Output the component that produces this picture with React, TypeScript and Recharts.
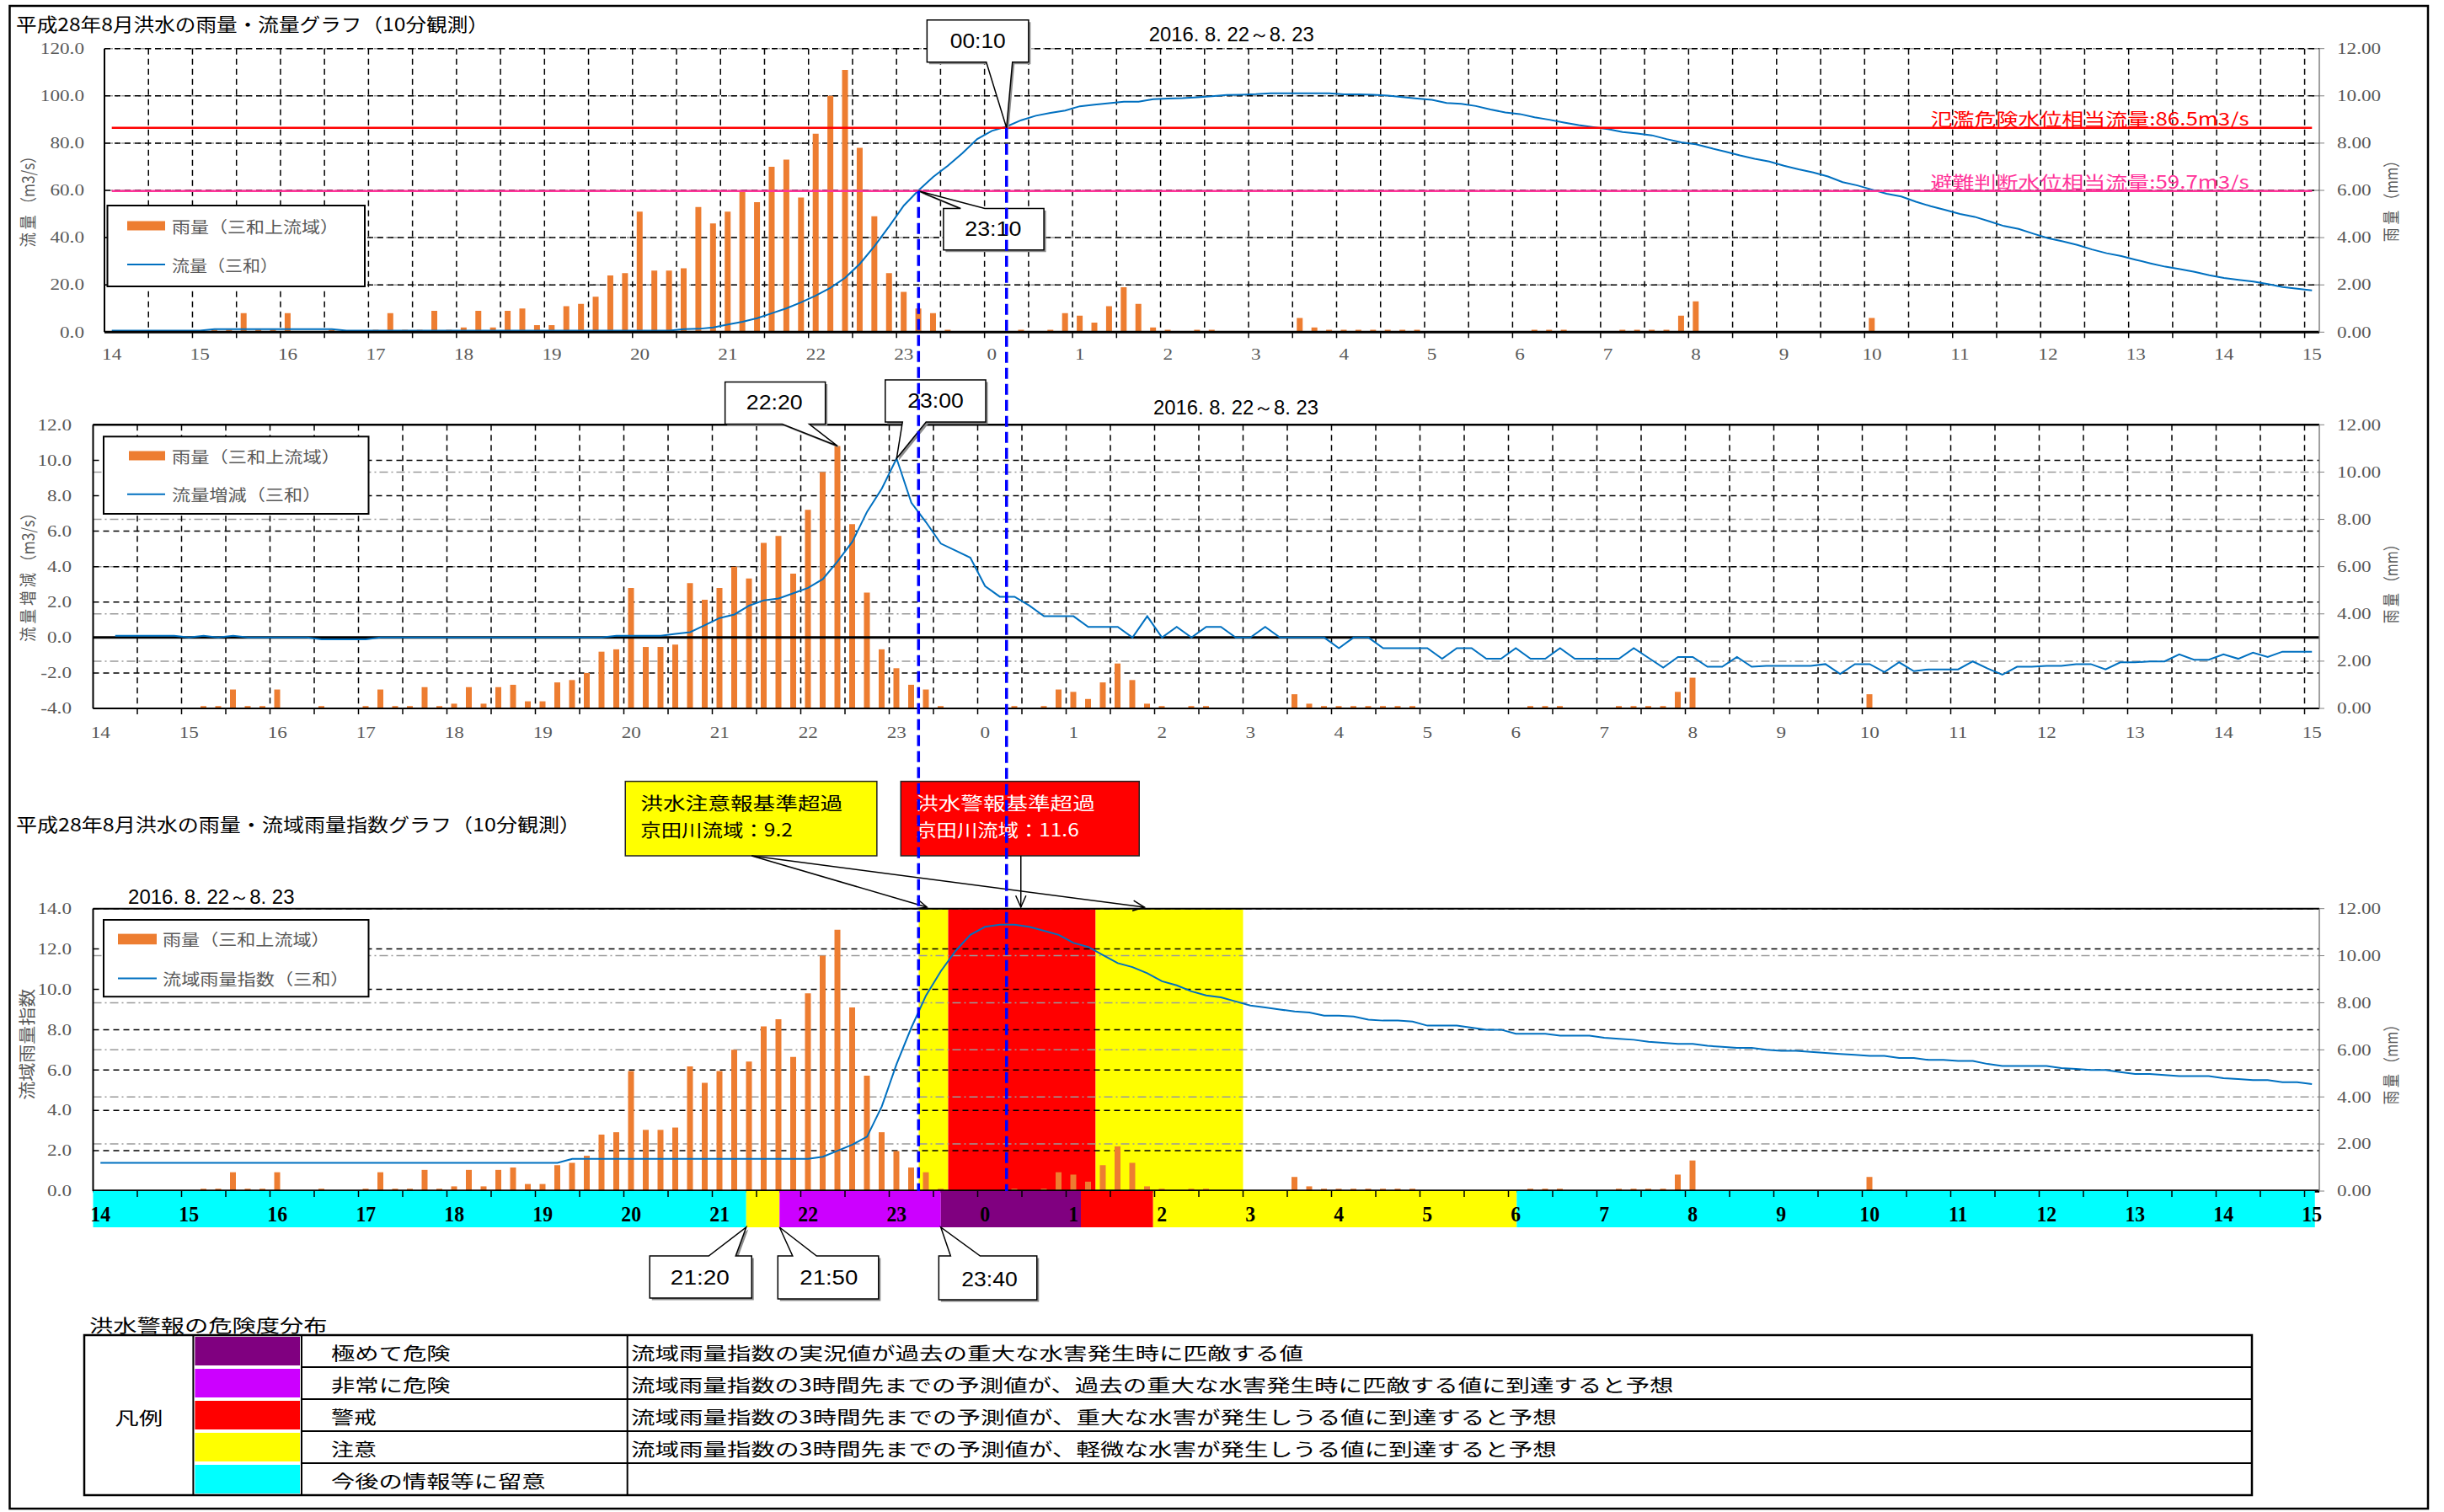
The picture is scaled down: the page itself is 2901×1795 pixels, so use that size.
import React from 'react';
import {
  ComposedChart, Bar, Line, XAxis, YAxis, CartesianGrid,
  ReferenceLine, ReferenceDot, ReferenceArea,
} from 'recharts';

// ---------------- data (10-minute observations, 2016-08-22 14:00 -> 08-23 15:00) ----------------
const hourLabels = ['14', '15', '16', '17', '18', '19', '20', '21', '22', '23', '0', '1', '2', '3', '4', '5', '6', '7', '8', '9', '10', '11', '12', '13', '14', '15'];

// rainfall (mm / 10 min) – 三和上流域
const rain = [
  0, 0, 0, 0, 0, 0, 0, 0.1, 0.1, 0.8,
  0.1, 0.1, 0.8, 0, 0, 0.1, 0, 0, 0.1, 0.8,
  0.1, 0.1, 0.9, 0.1, 0.2, 0.9, 0.2, 0.9, 1.0, 0.3,
  0.3, 1.1, 1.2, 1.5, 2.4, 2.5, 5.1, 2.6, 2.6, 2.7,
  5.3, 4.6, 5.1, 6.0, 5.5, 7.0, 7.3, 5.7, 8.4, 10.0,
  11.1, 7.8, 4.9, 2.5, 1.7, 1.0, 0.8, 0.1, 0, 0,
  0, 0, 0.1, 0, 0.1, 0.8, 0.7, 0.4, 1.1, 1.9,
  1.2, 0.2, 0.1, 0, 0.1, 0.1, 0, 0, 0, 0,
  0, 0.6, 0.2, 0.1, 0.1, 0.1, 0.1, 0.1, 0.1, 0.1,
  0, 0, 0, 0, 0, 0, 0, 0.1, 0.1, 0.1,
  0, 0, 0, 0.1, 0.1, 0.1, 0.1, 0.7, 1.3, 0,
  0, 0, 0, 0, 0, 0, 0, 0, 0, 0,
  0.6, 0, 0, 0, 0, 0, 0, 0, 0, 0,
  0, 0, 0, 0, 0, 0, 0, 0, 0, 0,
  0, 0, 0, 0, 0, 0, 0, 0, 0, 0,
  0,
];

// flow (m3/s) – 三和
const flow = [
  0.6, 0.6, 0.6, 0.6, 0.6, 0.6, 0.6, 1.3, 1.3, 1.3,
  1.3, 1.3, 1.3, 1.3, 1.3, 1.3, 0.6, 0.6, 0.6, 0.6,
  0.6, 0.6, 0.6, 0.6, 0.6, 0.6, 0.6, 0.6, 0.6, 0.6,
  0.6, 0.6, 0.6, 0.6, 0.6, 0.6, 0.6, 0.6, 0.6, 1.3,
  1.4, 2.0, 3.2, 4.4, 5.9, 8.0, 10.1, 12.6, 15.5, 18.8,
  23.0, 28.9, 36.4, 44.8, 53.6, 60.0, 65.7, 70.4, 75.8, 81.7,
  85.2, 87.0, 89.7, 91.6, 92.8, 93.8, 95.6, 96.3, 96.9, 97.5,
  97.5, 98.6, 98.9, 99.0, 99.4, 99.8, 100.4, 100.5, 100.7, 101.1,
  101.1, 101.1, 101.1, 101.1, 100.6, 100.6, 100.5, 100.1, 99.5, 98.9,
  98.3, 97.0, 96.6, 95.7, 94.2, 93.0, 92.3, 90.9, 89.9, 88.7,
  87.6, 86.7, 85.9, 84.7, 84.1, 83.3, 81.7, 80.3, 79.5, 77.9,
  76.4, 74.8, 73.4, 72.2, 70.4, 68.9, 67.6, 65.9, 63.5, 62.1,
  60.3, 58.6, 57.4, 55.2, 53.3, 51.7, 50.0, 48.8, 46.9, 44.9,
  43.7, 41.7, 39.8, 38.4, 36.9, 35.0, 33.4, 32.2, 30.6, 29.1,
  27.7, 26.7, 25.5, 24.1, 22.9, 22.1, 21.4, 20.3, 19.1, 18.4,
  17.7,
];

// flow change (m3/s per 10 min) – 三和
const dflow = [
  null, 0.1, 0.1, 0.1, 0.1, 0.1, 0.0, 0.1, 0.0, 0.1,
  0, 0, 0, 0, 0, -0.1, -0.1, -0.1, -0.1, 0,
  0, 0, 0, 0, 0, 0, 0, 0, 0, 0,
  0, 0, 0, 0, 0, 0.1, 0.1, 0.1, 0.1, 0.2,
  0.3, 0.7, 1.1, 1.3, 1.8, 2.1, 2.2, 2.5, 2.8, 3.3,
  4.3, 5.4, 7.1, 8.4, 10.1, 7.6, 6.5, 5.3, 4.9, 4.5,
  2.9, 2.3, 2.3, 1.8, 1.2, 1.2, 1.2, 0.6, 0.6, 0.6,
  0, 1.2, 0, 0.6, 0, 0.6, 0.6, 0, 0, 0.6,
  0, 0, 0, 0, -0.6, 0, 0, -0.6, -0.6, -0.6,
  -0.6, -1.2, -0.6, -0.6, -1.2, -1.2, -0.6, -1.2, -1.2, -0.6,
  -1.2, -1.2, -1.2, -1.2, -0.6, -1.15, -1.7, -1.1, -1.1, -1.65,
  -1.65, -1.1, -1.65, -1.6, -1.6, -1.6, -1.6, -1.5, -2.05, -1.5,
  -1.5, -1.95, -1.4, -1.9, -1.8, -1.8, -1.8, -1.35, -1.75, -2.1,
  -1.65, -1.65, -1.6, -1.6, -1.5, -1.5, -1.8, -1.4, -1.4, -1.35,
  -1.35, -0.95, -1.25, -1.25, -0.95, -1.2, -0.85, -1.1, -0.8, -0.8,
  -0.8,
];

// 流域雨量指数 – 三和
const basinIndex = [
  1.4, 1.4, 1.4, 1.4, 1.4, 1.4, 1.4, 1.4, 1.4, 1.4,
  1.4, 1.4, 1.4, 1.4, 1.4, 1.4, 1.4, 1.4, 1.4, 1.4,
  1.4, 1.4, 1.4, 1.4, 1.4, 1.4, 1.4, 1.4, 1.4, 1.4,
  1.4, 1.4, 1.6, 1.6, 1.6, 1.6, 1.6, 1.6, 1.6, 1.6,
  1.6, 1.6, 1.6, 1.6, 1.6, 1.6, 1.6, 1.6, 1.6, 1.7,
  2.0, 2.3, 2.7, 4.2, 6.3, 8.1, 9.7, 10.9, 11.9, 12.7,
  13.1, 13.2, 13.2, 13.1, 12.9, 12.7, 12.3, 12.1, 11.7, 11.3,
  11.1, 10.8, 10.4, 10.2, 9.9, 9.7, 9.6, 9.4, 9.2, 9.1,
  9.0, 8.9, 8.85, 8.7, 8.7, 8.65, 8.5, 8.45, 8.45, 8.4,
  8.2, 8.2, 8.2, 8.1, 8.0, 8.0, 7.8, 7.8, 7.8, 7.7,
  7.7, 7.7, 7.6, 7.55, 7.5, 7.4, 7.35, 7.3, 7.3, 7.2,
  7.15, 7.1, 7.1, 7.0, 6.95, 6.95, 6.9, 6.85, 6.8, 6.75,
  6.7, 6.7, 6.6, 6.6, 6.5, 6.5, 6.45, 6.45, 6.3, 6.2,
  6.2, 6.2, 6.2, 6.1, 6.05, 6.0, 6.0, 5.9, 5.8, 5.8,
  5.75, 5.7, 5.7, 5.7, 5.6, 5.55, 5.5, 5.5, 5.4, 5.4,
  5.3,
];

const DANGER_FLOW = 86.5; // 氾濫危険水位相当流量
const EVAC_FLOW = 59.7;   // 避難判断水位相当流量

// background warning bands of the index chart (x in 10-minute steps)
const bandStarts = [55.5, 57.5, 67.5];
const bandEnds = [57.5, 67.5, 77.5];
const bandColors = ['#FFFF00', '#FF0000', '#FFFF00'];

// danger distribution strip under the index chart
const stripStarts = [-0.5, 43.8, 46.06, 57.0, 66.5, 71.4, 96.06];
const stripEnds = [43.8, 46.06, 57.0, 66.5, 71.4, 96.06, 150.2];
const stripColors = ['#00FFFF', '#FFFF00', '#CC00FF', '#800080', '#FF0000', '#FFFF00', '#00FFFF'];
const stripTimes = ['', '21:20', '21:50', '23:40', '', '', ''];

const levels = [
  { color: '#800080', label: '極めて危険', lw: 141.7, desc: '流域雨量指数の実況値が過去の重大な水害発生時に匹敵する値', dw: 798 },
  { color: '#CC00FF', label: '非常に危険', lw: 141.7, desc: '流域雨量指数の3時間先までの予測値が、過去の重大な水害発生時に匹敵する値に到達すると予想', dw: 1237.5 },
  { color: '#FF0000', label: '警戒', lw: 53.8, desc: '流域雨量指数の3時間先までの予測値が、重大な水害が発生しうる値に到達すると予想', dw: 1098.8 },
  { color: '#FFFF00', label: '注意', lw: 53.8, desc: '流域雨量指数の3時間先までの予測値が、軽微な水害が発生しうる値に到達すると予想', dw: 1098.8 },
  { color: '#00FFFF', label: '今後の情報等に留意', lw: 254.6, desc: '', dw: 0 },
];

// ---------------- layout / style ----------------
const W = 2901;
const H = 1795;
const SERIF = '"Liberation Serif", "DejaVu Serif", serif';
const NARROW = '"Liberation Sans Narrow", "Liberation Sans", Arial, sans-serif';
const CJK = '"Noto Sans CJK JP", "Noto Sans CJK SC", "Noto Sans", sans-serif';
const GRAY_TXT = '#595959';
const ORANGE = '#ED7D31';
const BLUE = '#0070C0';
const GRID_GRAY = '#9a9a9a';
const SX = 1.22;
const X_DOMAIN: [number, number] = [-0.5, 150.5];
const hourTicks = hourLabels.map((_, k) => k * 6);
const gridX = Array.from({ length: 50 }, (_, k) => 2.5 + 3 * k);
const R_TICKS = [0, 2, 4, 6, 8, 10, 12];

const TOP_Y = 0, TOP_H = 440;
const MID_Y = 440, MID_H = 460;
const BOT_Y = 900, BOT_PLOT_BOTTOM = 1414;
const BOT_H = BOT_PLOT_BOTTOM - BOT_Y + 1;
const STRIP_Y = 1414, STRIP_H = 43;
const BLUE_END = BOT_PLOT_BOTTOM - TOP_Y;

const data = rain.map((r, i) => ({ i, rain: r, flow: flow[i], dflow: dflow[i], index: basinIndex[i] }));

// ---------------- helpers ----------------
const Txt = ({ x, y, w, size, fill = '#000', font = CJK, anchor = 'start', weight, rotate, children }: any) => (
  <text
    x={x} y={y} fontSize={size} fill={fill} fontFamily={font} textAnchor={anchor}
    dominantBaseline="central" fontWeight={weight}
    textLength={w || undefined} lengthAdjust={w ? 'spacingAndGlyphs' : undefined}
    transform={rotate ? `rotate(${rotate} ${x} ${y})` : undefined}
  >{children}</text>
);

const xTick = (dy: number, bold = false) => (props: any) => {
  const { x, y, payload } = props;
  const label = hourLabels[Math.round(payload.value / 6)];
  const s = bold ? 0.95 : SX;
  return (
    <text x={x} y={y + dy} transform={`matrix(${s},0,0,1,${x * (1 - s)},0)`} textAnchor="middle"
      dominantBaseline="central" fontFamily={SERIF} fontSize={bold ? 25 : 19}
      fontWeight={bold ? 'bold' : 'normal'} fill={bold ? '#000' : GRAY_TXT}>{label}</text>
  );
};
const yTickL = (dx: number) => (props: any) => {
  const { x, y, payload } = props;
  const tx = x - dx;
  return (
    <text x={tx} y={y} transform={`matrix(${SX},0,0,1,${tx * (1 - SX)},0)`} textAnchor="end"
      dominantBaseline="central" fontFamily={SERIF} fontSize={19} fill={GRAY_TXT}>{Number(payload.value).toFixed(1)}</text>
  );
};
const yTickR = (props: any) => {
  const { x, y, payload } = props;
  const tx = x + 15;
  return (
    <text x={tx} y={y} transform={`matrix(${SX},0,0,1,${tx * (1 - SX)},0)`} textAnchor="start"
      dominantBaseline="central" fontFamily={SERIF} fontSize={19} fill={GRAY_TXT}>{Number(payload.value).toFixed(2)}</text>
  );
};

function calloutPath(cx: number, cy: number, c: any) {
  const L = cx + c.box[0], T = cy + c.box[1], R = cx + c.box[2], B = cy + c.box[3];
  const b1 = cx + c.base[0], b2 = cx + c.base[1];
  if (c.side === 'bottom') return `M${L},${T} H${R} V${B} H${b2} L${cx},${cy} L${b1},${B} H${L} Z`;
  return `M${L},${T} H${b1} L${cx},${cy} L${b2},${T} H${R} V${B} H${L} Z`;
}
const makeCallout = (c: any) => (p: any) => {
  const { cx, cy } = p;
  if (cx == null || cy == null) return <g />;
  const d = calloutPath(cx, cy, c);
  return (
    <g>
      <path d={d} fill="#8c8c8c" transform="translate(2.5,2.5)" />
      <path d={d} fill="#fff" stroke="#000" strokeWidth={1.5} />
      <Txt x={cx + c.tc[0]} y={cy + c.tc[1]} w={c.tw} size={24} font={NARROW} anchor="middle">{c.text}</Txt>
    </g>
  );
};
const blueDashed = (p: any) => (p.cx == null ? <g /> : (
  <line x1={p.cx} y1={p.cy} x2={p.cx} y2={BLUE_END} stroke="#0000FF" strokeWidth={3.5} strokeDasharray="13 6" />
));
const tickMark = (p: any) => (p.cx == null ? <g /> : (
  <line x1={p.cx} y1={p.cy} x2={p.cx} y2={p.cy + 7} stroke="#000" strokeWidth={1.5} />
));
const thresholdLabel = (text: string, color: string) => (p: any) => (p.cx == null ? <g /> : (
  <Txt x={p.cx - 74.7} y={p.cy - 11.7} w={378} size={21} fill={color} anchor="end">{text}</Txt>
));

function Arrow({ x1, y1, x2, y2, size = 15 }: any) {
  const a = Math.atan2(y2 - y1, x2 - x1);
  const s = 0.42;
  const p1 = `${x2 - size * Math.cos(a - s)},${y2 - size * Math.sin(a - s)}`;
  const p2 = `${x2 - size * Math.cos(a + s)},${y2 - size * Math.sin(a + s)}`;
  return (
    <g stroke="#000" strokeWidth={1.5} fill="none">
      <line x1={x1} y1={y1} x2={x2} y2={y2} />
      <polyline points={`${p1} ${x2},${y2} ${p2}`} />
    </g>
  );
}

const cautionNote = (p: any) => {
  const { cx, cy } = p;
  if (cx == null) return <g />;
  return (
    <g>
      <rect x={cx - 357} y={cy - 151.1} width={298.6} height={88.4} fill="#FFFF00" stroke="#222" strokeWidth={1.5} />
      <Txt x={cx - 339} y={cy - 127} w={240} size={21}>洪水注意報基準超過</Txt>
      <Txt x={cx - 339} y={cy - 94.5} w={180.5} size={21}>京田川流域：9.2</Txt>
      <Arrow x1={cx - 207} y1={cy - 62.7} x2={cx + 1} y2={cy - 1.7} />
      <Arrow x1={cx - 207} y1={cy - 62.7} x2={cx + 259.2} y2={cy - 1.7} />
    </g>
  );
};
const warningNote = (p: any) => {
  const { cx, cy } = p;
  if (cx == null) return <g />;
  return (
    <g>
      <rect x={cx - 65} y={cy - 151.1} width={283} height={88.4} fill="#FF0000" stroke="#222" strokeWidth={1.5} />
      <Txt x={cx - 47} y={cy - 127} w={212.5} size={21} fill="#fff">洪水警報基準超過</Txt>
      <Txt x={cx - 47} y={cy - 94.5} w={193.4} size={21} fill="#fff">京田川流域：11.6</Txt>
      <Arrow x1={cx + 77.5} y1={cy - 62.7} x2={cx + 77.5} y2={cy - 1.7} />
    </g>
  );
};

const topCallouts = [
  { x: 61, y: DANGER_FLOW, text: '00:10', side: 'bottom', box: [-94.4, -128, 26.1, -78], base: [-24, 7], tc: [-34, -103.2], tw: 66 },
  { x: 55, y: EVAC_FLOW, text: '23:10', side: 'top', box: [29.6, 20.6, 148.8, 70], base: [50, 78.7], tc: [88.5, 45], tw: 67 },
];
const midCallouts = [
  { x: 50, y: rain[50], axis: 'r', text: '22:20', side: 'bottom', box: [-133.6, -76, -14.6, -26], base: [-65.6, -33.6], tc: [-75, -51.7], tw: 67 },
  { x: 54, y: dflow[54] as number, axis: 'l', text: '23:00', side: 'bottom', box: [-13.5, -93.3, 105.8, -43.3], base: [7, 35], tc: [46.3, -69], tw: 66.5 },
];
const stripCallouts = [
  { k: 1, side: 'top', box: [-114.5, 34, 6.5, 84], base: [-44.5, -12.5], tc: [-54.9, 59.7], tw: 70 },
  { k: 2, side: 'top', box: [-2, 34, 117.5, 85], base: [15.5, 44], tc: [58.5, 59.7], tw: 69 },
  { k: 3, side: 'top', box: [-2.4, 34, 114, 86], base: [11.6, 46.7], tc: [57.8, 61.7], tw: 66.5 },
];

const commonX = {
  xAxisId: 'x', dataKey: 'i', type: 'number' as const, domain: X_DOMAIN, ticks: hourTicks,
  interval: 0, allowDataOverflow: true, tickLine: false, tickSize: 0, tickMargin: 0,
};
const rightAxis = {
  yAxisId: 'r', orientation: 'right' as const, domain: [0, 12], ticks: R_TICKS, width: 148, interval: 0,
  tickSize: 6, tickMargin: 0, tickLine: { stroke: '#808080' }, axisLine: { stroke: '#808080', strokeWidth: 1.5 },
  tick: yTickR, allowDataOverflow: true,
};
const leftAxisBase = {
  yAxisId: 'l', allowDataOverflow: true, interval: 0, tickLine: false, tickSize: 0, tickMargin: 0,
  axisLine: { stroke: '#000', strokeWidth: 2 },
};

// ---------------- charts ----------------
function TopChart() {
  return (
    <div style={{ position: 'absolute', left: 0, top: TOP_Y, zIndex: 3 }}>
      <ComposedChart width={W} height={TOP_H} data={data} margin={{ top: 57.7, right: 0, bottom: 0, left: 0 }}>
        <CartesianGrid xAxisId="x" yAxisId="r" vertical={false} stroke={GRID_GRAY} strokeDasharray="10 4 2 4" strokeWidth={1.5} />
        <CartesianGrid xAxisId="x" yAxisId="l" verticalValues={gridX} stroke="#000" strokeDasharray="7 5" strokeWidth={1.5} />
        <XAxis {...commonX} height={TOP_H - 394.3} axisLine={{ stroke: '#000', strokeWidth: 3 }} tick={xTick(26)} />
        <YAxis {...leftAxisBase} domain={[0, 120]} ticks={[0, 20, 40, 60, 80, 100, 120]} width={124} tick={yTickL(24)} />
        <YAxis {...rightAxis} />
        <Bar xAxisId="x" yAxisId="r" dataKey="rain" fill={ORANGE} barSize={7} isAnimationActive={false} />
        <Line xAxisId="x" yAxisId="l" dataKey="flow" type="linear" stroke={BLUE} strokeWidth={2} dot={false} isAnimationActive={false} />
        {gridX.map((g) => (
          <ReferenceDot key={'t' + g} xAxisId="x" yAxisId="l" x={g} y={0} shape={tickMark} />
        ))}
        <ReferenceLine xAxisId="x" yAxisId="l" segment={[{ x: 0, y: DANGER_FLOW }, { x: 150, y: DANGER_FLOW }]} stroke="#FF0000" strokeWidth={2.5} />
        <ReferenceLine xAxisId="x" yAxisId="l" segment={[{ x: 0, y: EVAC_FLOW }, { x: 150, y: EVAC_FLOW }]} stroke="#FF3399" strokeWidth={2.5} />
        <ReferenceDot xAxisId="x" yAxisId="l" x={150} y={DANGER_FLOW} shape={thresholdLabel('氾濫危険水位相当流量:86.5m3/s', '#FF0000')} />
        <ReferenceDot xAxisId="x" yAxisId="l" x={150} y={EVAC_FLOW} shape={thresholdLabel('避難判断水位相当流量:59.7m3/s', '#FF3399')} />
        {topCallouts.map((c) => (
          <ReferenceDot key={c.text} xAxisId="x" yAxisId="l" x={c.x} y={c.y} shape={makeCallout(c)} />
        ))}
        {topCallouts.map((c) => (
          <ReferenceDot key={c.text + 'l'} xAxisId="x" yAxisId="l" x={c.x} y={c.y} shape={blueDashed} />
        ))}
      </ComposedChart>
    </div>
  );
}

function MiddleChart() {
  return (
    <div style={{ position: 'absolute', left: 0, top: MID_Y, zIndex: 2 }}>
      <ComposedChart width={W} height={MID_H} data={data} margin={{ top: 504.3 - MID_Y, right: 0, bottom: 0, left: 0 }}>
        <CartesianGrid xAxisId="x" yAxisId="r" vertical={false} stroke={GRID_GRAY} strokeDasharray="10 4 2 4" strokeWidth={1.5} />
        <CartesianGrid xAxisId="x" yAxisId="l" verticalValues={gridX} stroke="#000" strokeDasharray="7 5" strokeWidth={1.5} />
        <XAxis {...commonX} height={MID_Y + MID_H - 841} axisLine={{ stroke: '#000', strokeWidth: 2 }} tick={xTick(29)} />
        <YAxis {...leftAxisBase} domain={[-4, 12]} ticks={[-4, -2, 0, 2, 4, 6, 8, 10, 12]} width={110.5} tick={yTickL(25.5)} />
        <YAxis {...rightAxis} />
        <ReferenceLine xAxisId="x" yAxisId="l" y={0} stroke="#000" strokeWidth={3} />
        <ReferenceLine xAxisId="x" yAxisId="l" y={12} stroke="#000" strokeWidth={2.5} />
        <Bar xAxisId="x" yAxisId="r" dataKey="rain" fill={ORANGE} barSize={7} isAnimationActive={false} />
        <Line xAxisId="x" yAxisId="l" dataKey="dflow" type="linear" stroke={BLUE} strokeWidth={2} dot={false} isAnimationActive={false} />
        {gridX.map((g) => (
          <ReferenceDot key={'t' + g} xAxisId="x" yAxisId="l" x={g} y={-4} shape={tickMark} />
        ))}
        {midCallouts.map((c) => (
          <ReferenceDot key={c.text} xAxisId="x" yAxisId={c.axis} x={c.x} y={c.y} shape={makeCallout(c)} />
        ))}
      </ComposedChart>
    </div>
  );
}

function BottomChart() {
  return (
    <div style={{ position: 'absolute', left: 0, top: BOT_Y, zIndex: 1 }}>
      <ComposedChart width={W} height={BOT_H} data={data} margin={{ top: 1078.7 - BOT_Y, right: 0, bottom: 0, left: 0 }}>
        {bandStarts.map((s, k) => (
          <ReferenceArea key={k} xAxisId="x" yAxisId="l" x1={s} x2={bandEnds[k]} y1={0} y2={14} fill={bandColors[k]} fillOpacity={1} stroke="none" zIndex={-150} />
        ))}
        <CartesianGrid xAxisId="x" yAxisId="r" vertical={false} stroke={GRID_GRAY} strokeDasharray="10 4 2 4" strokeWidth={1.5} />
        <CartesianGrid xAxisId="x" yAxisId="l" verticalValues={gridX} stroke="#000" strokeDasharray="7 5" strokeWidth={1.5} />
        <XAxis {...commonX} height={1} tick={false} axisLine={{ stroke: '#000', strokeWidth: 3 }} />
        <YAxis {...leftAxisBase} domain={[0, 14]} ticks={[0, 2, 4, 6, 8, 10, 12, 14]} width={110.5} tick={yTickL(25.5)} />
        <YAxis {...rightAxis} />
        <ReferenceLine xAxisId="x" yAxisId="l" y={14} stroke="#000" strokeWidth={2} />
        <ReferenceLine xAxisId="x" yAxisId="l" y={0} stroke="#000" strokeWidth={3} />
        <Bar xAxisId="x" yAxisId="r" dataKey="rain" fill={ORANGE} barSize={7} isAnimationActive={false} />
        <Line xAxisId="x" yAxisId="l" dataKey="index" type="linear" stroke={BLUE} strokeWidth={2} dot={false} isAnimationActive={false} />
        <ReferenceDot xAxisId="x" yAxisId="l" x={56} y={14} shape={cautionNote} />
        <ReferenceDot xAxisId="x" yAxisId="l" x={58} y={14} shape={warningNote} />
      </ComposedChart>
    </div>
  );
}

function StripChart() {
  return (
    <div style={{ position: 'absolute', left: 0, top: STRIP_Y, zIndex: 1 }}>
      <ComposedChart width={W} height={STRIP_H + 1} data={data} margin={{ top: 0, right: 0, bottom: 0, left: 0 }}>
        <XAxis {...commonX} height={1} axisLine={false} tick={xTick(-16.2, true)} />
        <YAxis yAxisId="s" domain={[0, 1]} allowDataOverflow width={110.5} tick={false} tickLine={false} axisLine={false} />
        <YAxis yAxisId="s2" orientation="right" domain={[0, 1]} allowDataOverflow width={148} tick={false} tickLine={false} axisLine={false} />
        {stripStarts.map((s, k) => (
          <ReferenceArea key={k} xAxisId="x" yAxisId="s" x1={s} x2={stripEnds[k]} y1={0} y2={1} fill={stripColors[k]} fillOpacity={1} stroke="none" ifOverflow="visible" />
        ))}
        {gridX.map((g) => (
          <ReferenceDot key={'t' + g} xAxisId="x" yAxisId="s" x={g} y={1} shape={tickMark} />
        ))}
        {stripCallouts.map((c) => (
          <ReferenceDot key={c.k} xAxisId="x" yAxisId="s" x={stripStarts[c.k]} y={0}
            shape={makeCallout({ ...c, text: stripTimes[c.k] })} />
        ))}
      </ComposedChart>
    </div>
  );
}

// ---------------- titles, legends, legend table ----------------
function LegendBox({ box, bar, line }: any) {
  return (
    <g>
      <rect x={box[0]} y={box[1]} width={box[2]} height={box[3]} fill="#fff" stroke="#000" strokeWidth={2} />
      <rect x={bar.x} y={bar.y} width={bar.w} height={bar.h} fill={ORANGE} />
      <Txt x={bar.tx} y={bar.y + bar.h / 2} w={bar.tw} size={19} fill={GRAY_TXT}>{bar.text}</Txt>
      <line x1={line.x1} x2={line.x2} y1={line.y} y2={line.y} stroke={BLUE} strokeWidth={2} />
      <Txt x={line.tx} y={line.y} w={line.tw} size={19} fill={GRAY_TXT}>{line.text}</Txt>
    </g>
  );
}

function Overlay() {
  const tx = 100, ty = 1585, tw = 2573, rh = 38, c1 = 229.4, c2 = 358, c3 = 744.7;
  return (
    <svg width={W} height={H} style={{ position: 'absolute', left: 0, top: 0, zIndex: 10, pointerEvents: 'none' }}>
      <rect x={11.5} y={7} width={2870.5} height={1784} fill="none" stroke="#000" strokeWidth={2.5} />

      <Txt x={19} y={27} w={561} size={22}>平成28年8月洪水の雨量・流量グラフ（10分観測）</Txt>
      <Txt x={19} y={976.5} w={670} size={22}>平成28年8月洪水の雨量・流域雨量指数グラフ（10分観測）</Txt>

      <Txt x={1461.8} y={40} w={196} size={24} font={NARROW} anchor="middle">2016. 8. 22～8. 23</Txt>
      <Txt x={1467} y={483} w={196} size={24} font={NARROW} anchor="middle">2016. 8. 22～8. 23</Txt>
      <Txt x={250.8} y={1064.6} w={197.5} size={24} font={NARROW} anchor="middle">2016. 8. 22～8. 23</Txt>

      <Txt x={32} y={235} w={117} size={20} fill={GRAY_TXT} anchor="middle" rotate={-90}>流 量 （m3/s）</Txt>
      <Txt x={2837.5} y={234.5} w={105} size={20} fill={GRAY_TXT} anchor="middle" rotate={-90}>雨 量 （mm）</Txt>
      <Txt x={32} y={681} w={162} size={20} fill={GRAY_TXT} anchor="middle" rotate={-90}>流 量 増 減 （m3/s）</Txt>
      <Txt x={2837.5} y={689} w={102} size={20} fill={GRAY_TXT} anchor="middle" rotate={-90}>雨 量 （mm）</Txt>
      <Txt x={32} y={1239.7} w={132} size={20} fill={GRAY_TXT} anchor="middle" rotate={-90}>流域雨量指数</Txt>
      <Txt x={2837.5} y={1259.7} w={103} size={20} fill={GRAY_TXT} anchor="middle" rotate={-90}>雨 量 （mm）</Txt>

      <LegendBox box={[127.5, 244, 305.5, 96]}
        bar={{ x: 151, y: 262.5, w: 45, h: 11, tx: 204, tw: 198, text: '雨量（三和上流域）' }}
        line={{ x1: 151, x2: 196, y: 314, tx: 204, tw: 126, text: '流量（三和）' }} />
      <LegendBox box={[123, 518.3, 314.5, 91.7]}
        bar={{ x: 153, y: 535.5, w: 43, h: 11, tx: 204, tw: 200, text: '雨量（三和上流域）' }}
        line={{ x1: 151, x2: 196, y: 586.7, tx: 204, tw: 177.4, text: '流量増減（三和）' }} />
      <LegendBox box={[123, 1092, 314.5, 91.2]}
        bar={{ x: 140, y: 1108.6, w: 46, h: 12.6, tx: 193, tw: 198.6, text: '雨量（三和上流域）' }}
        line={{ x1: 140, x2: 186, y: 1161.4, tx: 193, tw: 221.5, text: '流域雨量指数（三和）' }} />

      <Txt x={106} y={1571.7} w={282.5} size={21}>洪水警報の危険度分布</Txt>
      {levels.map((lv, k) => (
        <g key={k}>
          <rect x={c1 + 2} y={ty + k * rh + 2} width={c2 - c1 - 4} height={rh - 4} fill={lv.color} />
          <Txt x={393} y={ty + k * rh + rh / 2 + 1} w={lv.lw} size={21}>{lv.label}</Txt>
          {lv.desc ? <Txt x={749} y={ty + k * rh + rh / 2 + 1} w={lv.dw} size={21}>{lv.desc}</Txt> : null}
          {k > 0 ? <line x1={c2} x2={tx + tw} y1={ty + k * rh} y2={ty + k * rh} stroke="#000" strokeWidth={2} /> : null}
        </g>
      ))}
      <rect x={tx} y={ty} width={tw} height={rh * 5} fill="none" stroke="#000" strokeWidth={2.5} />
      <line x1={c1} x2={c1} y1={ty} y2={ty + rh * 5} stroke="#000" strokeWidth={2} />
      <line x1={c2} x2={c2} y1={ty} y2={ty + rh * 5} stroke="#000" strokeWidth={2} />
      <line x1={c3} x2={c3} y1={ty} y2={ty + rh * 5} stroke="#000" strokeWidth={2} />
      <Txt x={(tx + c1) / 2} y={1681.7} w={57} size={21} anchor="middle">凡例</Txt>
    </svg>
  );
}

export default function App() {
  return (
    <div style={{ position: 'absolute', left: 0, top: 0, width: W, height: H, background: '#fff', overflow: 'hidden' }}>
      <style>{'.recharts-surface{overflow:visible}.recharts-wrapper{overflow:visible}'}</style>
      <BottomChart />
      <StripChart />
      <MiddleChart />
      <TopChart />
      <Overlay />
    </div>
  );
}
